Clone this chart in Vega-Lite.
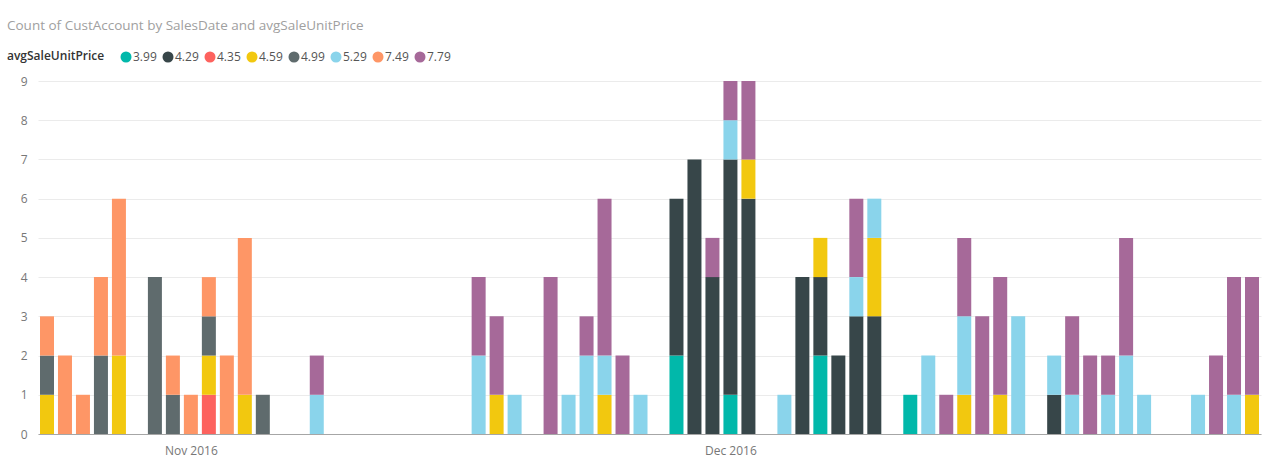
{
  "$schema": "https://vega.github.io/schema/vega-lite/v6.json",
  "width": 1223,
  "height": 353,
  "autosize": {"type": "none"},
  "padding": {"left": 38, "top": 81, "right": 2, "bottom": 25},
  "background": "white",
  "config": {"view": {"stroke": null}, "font": "Open Sans"},
  "title": {
    "text": "Count of CustAccount by SalesDate and avgSaleUnitPrice",
    "anchor": "start",
    "frame": "group",
    "dx": -31,
    "offset": 19,
    "fontSize": 13.5,
    "fontWeight": "normal",
    "color": "#a0a0a0",
    "font": "Open Sans"
  },
  "data": {
    "values": [
      {"d": "2016/10/24", "p": "4.59", "n": 1}, {"d": "2016/10/24", "p": "4.99", "n": 1}, {"d": "2016/10/24", "p": "7.49", "n": 1},
      {"d": "2016/10/25", "p": "7.49", "n": 2},
      {"d": "2016/10/26", "p": "7.49", "n": 1},
      {"d": "2016/10/27", "p": "4.99", "n": 2}, {"d": "2016/10/27", "p": "7.49", "n": 2},
      {"d": "2016/10/28", "p": "4.59", "n": 2}, {"d": "2016/10/28", "p": "7.49", "n": 4},
      {"d": "2016/10/30", "p": "4.99", "n": 4},
      {"d": "2016/10/31", "p": "4.99", "n": 1}, {"d": "2016/10/31", "p": "7.49", "n": 1},
      {"d": "2016/11/01", "p": "7.49", "n": 1},
      {"d": "2016/11/02", "p": "4.35", "n": 1}, {"d": "2016/11/02", "p": "4.59", "n": 1}, {"d": "2016/11/02", "p": "4.99", "n": 1}, {"d": "2016/11/02", "p": "7.49", "n": 1},
      {"d": "2016/11/03", "p": "7.49", "n": 2},
      {"d": "2016/11/04", "p": "4.59", "n": 1}, {"d": "2016/11/04", "p": "7.49", "n": 4},
      {"d": "2016/11/05", "p": "4.99", "n": 1},
      {"d": "2016/11/08", "p": "5.29", "n": 1}, {"d": "2016/11/08", "p": "7.79", "n": 1},
      {"d": "2016/11/17", "p": "5.29", "n": 2}, {"d": "2016/11/17", "p": "7.79", "n": 2},
      {"d": "2016/11/18", "p": "4.59", "n": 1}, {"d": "2016/11/18", "p": "7.79", "n": 2},
      {"d": "2016/11/19", "p": "5.29", "n": 1},
      {"d": "2016/11/21", "p": "7.79", "n": 4},
      {"d": "2016/11/22", "p": "5.29", "n": 1},
      {"d": "2016/11/23", "p": "5.29", "n": 2}, {"d": "2016/11/23", "p": "7.79", "n": 1},
      {"d": "2016/11/24", "p": "4.59", "n": 1}, {"d": "2016/11/24", "p": "5.29", "n": 1}, {"d": "2016/11/24", "p": "7.79", "n": 4},
      {"d": "2016/11/25", "p": "7.79", "n": 2},
      {"d": "2016/11/26", "p": "5.29", "n": 1},
      {"d": "2016/11/28", "p": "3.99", "n": 2}, {"d": "2016/11/28", "p": "4.29", "n": 4},
      {"d": "2016/11/29", "p": "4.29", "n": 7},
      {"d": "2016/11/30", "p": "4.29", "n": 4}, {"d": "2016/11/30", "p": "7.79", "n": 1},
      {"d": "2016/12/01", "p": "3.99", "n": 1}, {"d": "2016/12/01", "p": "4.29", "n": 6}, {"d": "2016/12/01", "p": "5.29", "n": 1}, {"d": "2016/12/01", "p": "7.79", "n": 1},
      {"d": "2016/12/02", "p": "4.29", "n": 6}, {"d": "2016/12/02", "p": "4.59", "n": 1}, {"d": "2016/12/02", "p": "7.79", "n": 2},
      {"d": "2016/12/04", "p": "5.29", "n": 1},
      {"d": "2016/12/05", "p": "4.29", "n": 4},
      {"d": "2016/12/06", "p": "3.99", "n": 2}, {"d": "2016/12/06", "p": "4.29", "n": 2}, {"d": "2016/12/06", "p": "4.59", "n": 1},
      {"d": "2016/12/07", "p": "4.29", "n": 2},
      {"d": "2016/12/08", "p": "4.29", "n": 3}, {"d": "2016/12/08", "p": "5.29", "n": 1}, {"d": "2016/12/08", "p": "7.79", "n": 2},
      {"d": "2016/12/09", "p": "4.29", "n": 3}, {"d": "2016/12/09", "p": "4.59", "n": 2}, {"d": "2016/12/09", "p": "5.29", "n": 1},
      {"d": "2016/12/11", "p": "3.99", "n": 1},
      {"d": "2016/12/12", "p": "5.29", "n": 2},
      {"d": "2016/12/13", "p": "7.79", "n": 1},
      {"d": "2016/12/14", "p": "4.59", "n": 1}, {"d": "2016/12/14", "p": "5.29", "n": 2}, {"d": "2016/12/14", "p": "7.79", "n": 2},
      {"d": "2016/12/15", "p": "7.79", "n": 3},
      {"d": "2016/12/16", "p": "4.59", "n": 1}, {"d": "2016/12/16", "p": "7.79", "n": 3},
      {"d": "2016/12/17", "p": "5.29", "n": 3},
      {"d": "2016/12/19", "p": "4.29", "n": 1}, {"d": "2016/12/19", "p": "5.29", "n": 1},
      {"d": "2016/12/20", "p": "5.29", "n": 1}, {"d": "2016/12/20", "p": "7.79", "n": 2},
      {"d": "2016/12/21", "p": "7.79", "n": 2},
      {"d": "2016/12/22", "p": "5.29", "n": 1}, {"d": "2016/12/22", "p": "7.79", "n": 1},
      {"d": "2016/12/23", "p": "5.29", "n": 2}, {"d": "2016/12/23", "p": "7.79", "n": 3},
      {"d": "2016/12/24", "p": "5.29", "n": 1},
      {"d": "2016/12/27", "p": "5.29", "n": 1},
      {"d": "2016/12/28", "p": "7.79", "n": 2},
      {"d": "2016/12/29", "p": "5.29", "n": 1}, {"d": "2016/12/29", "p": "7.79", "n": 3},
      {"d": "2016/12/30", "p": "4.59", "n": 1}, {"d": "2016/12/30", "p": "7.79", "n": 3}
    ]
  },
  "mark": {"type": "bar", "width": 14},
  "encoding": {
    "x": {
      "field": "d",
      "type": "temporal",
      "timeUnit": "yearmonthdate",
      "bandPosition": 0.5,
      "scale": {
        "domain": [
          {"year": 2016, "month": 10, "date": 24},
          {"year": 2016, "month": 12, "date": 31}
        ]
      },
      "axis": {
        "title": null,
        "values": [
          {"year": 2016, "month": 11, "date": 1, "hours": 12},
          {"year": 2016, "month": 12, "date": 1, "hours": 12}
        ],
        "format": "%b %Y",
        "formatType": "time",
        "ticks": false,
        "grid": false,
        "domainColor": "#a6a6a6",
        "domainWidth": 1,
        "labelColor": "#777777",
        "labelFontSize": 12,
        "labelFont": "Open Sans",
        "labelPadding": 11
      }
    },
    "y": {
      "field": "n",
      "type": "quantitative",
      "aggregate": "sum",
      "stack": "zero",
      "scale": {"domain": [0, 9], "nice": false},
      "axis": {
        "title": null,
        "values": [0, 1, 2, 3, 4, 5, 6, 7, 8, 9],
        "ticks": false,
        "domain": false,
        "gridColor": "#ebebeb",
        "gridWidth": 1,
        "labelColor": "#777777",
        "labelFontSize": 12,
        "labelFont": "Open Sans",
        "labelPadding": 11
      }
    },
    "color": {
      "field": "p",
      "type": "nominal",
      "scale": {
        "domain": ["3.99", "4.29", "4.35", "4.59", "4.99", "5.29", "7.49", "7.79"],
        "range": ["#01B8AA", "#374649", "#FD625E", "#F2C80F", "#5F6B6D", "#8AD4EB", "#FE9666", "#A66999"]
      },
      "legend": {
        "title": "avgSaleUnitPrice",
        "orient": "none",
        "legendX": -31,
        "legendY": -30,
        "direction": "horizontal",
        "titleOrient": "left",
        "titleAnchor": "start",
        "titleFont": "Open Sans",
        "titleFontSize": 12,
        "titleFontWeight": 600,
        "titleColor": "#333333",
        "titlePadding": 15,
        "titleBaseline": "top",
        "symbolType": "circle",
        "symbolSize": 121,
        "symbolStrokeWidth": 0,
        "labelFont": "Open Sans",
        "labelFontSize": 12,
        "labelColor": "#555555",
        "labelOffset": 1,
        "columnPadding": 5
      }
    },
    "order": {"field": "p", "sort": "ascending"}
  }
}
